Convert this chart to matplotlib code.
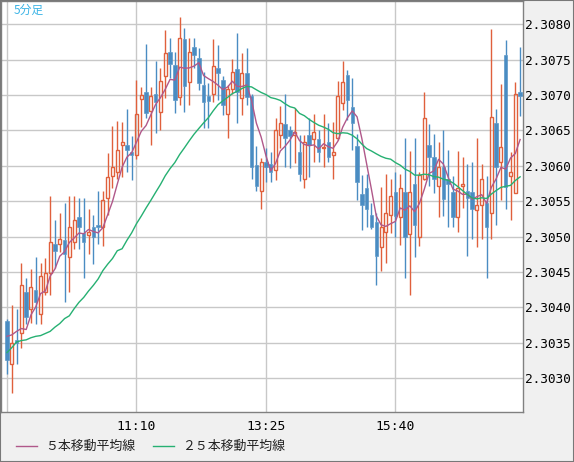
from matplotlib import pyplot as plt
from matplotlib.lines import Line2D
from matplotlib.patches import Rectangle
import numpy as np
import pandas as pd

# 5-minute candles (8:55 .. 17:50)
opens = [2.30381, 2.30320, 2.30354, 2.30363, 2.30422, 2.30398, 2.30425, 2.30391, 2.30422, 2.30448,
         2.30489, 2.30490, 2.30495, 2.30471, 2.30493, 2.30527, 2.30505, 2.30502, 2.30513, 2.30517,
         2.30514, 2.30554, 2.30585, 2.30591, 2.30630, 2.30630, 2.30619, 2.30616, 2.30694, 2.30704,
         2.30677, 2.30701, 2.30676, 2.30727, 2.30761, 2.30742, 2.30697, 2.30779, 2.30718, 2.30768,
         2.30752, 2.30714, 2.30699, 2.30701, 2.30738, 2.30721, 2.30673, 2.30708, 2.30737, 2.30696,
         2.30731, 2.30699, 2.30601, 2.30565, 2.30605, 2.30602, 2.30594, 2.30643, 2.30659, 2.30650,
         2.30643, 2.30619, 2.30582, 2.30643, 2.30638, 2.30638, 2.30625, 2.30633, 2.30615, 2.30640,
         2.30689, 2.30728, 2.30683, 2.30628, 2.30560, 2.30568, 2.30531, 2.30520, 2.30485, 2.30506,
         2.30531, 2.30563, 2.30527, 2.30563, 2.30503, 2.30575, 2.30500, 2.30582, 2.30630, 2.30613,
         2.30572, 2.30598, 2.30581, 2.30563, 2.30527, 2.30571, 2.30565, 2.30563, 2.30537, 2.30544,
         2.30547, 2.30533, 2.30660, 2.30605, 2.30757, 2.30585, 2.30562, 2.30704]
highs = [2.30383, 2.30403, 2.30398, 2.30462, 2.30442, 2.30454, 2.30471, 2.30463, 2.30469, 2.30557,
         2.30523, 2.30533, 2.30548, 2.30557, 2.30557, 2.30555, 2.30555, 2.30539, 2.30530, 2.30565,
         2.30564, 2.30618, 2.30657, 2.30663, 2.30662, 2.30680, 2.30642, 2.30721, 2.30711, 2.30772,
         2.30711, 2.30748, 2.30738, 2.30792, 2.30781, 2.30761, 2.30810, 2.30795, 2.30781, 2.30781,
         2.30766, 2.30732, 2.30717, 2.30779, 2.30771, 2.30727, 2.30714, 2.30751, 2.30788, 2.30759,
         2.30766, 2.30701, 2.30628, 2.30611, 2.30625, 2.30619, 2.30667, 2.30684, 2.30701, 2.30656,
         2.30682, 2.30643, 2.30643, 2.30667, 2.30673, 2.30650, 2.30673, 2.30660, 2.30662, 2.30720,
         2.30748, 2.30735, 2.30724, 2.30645, 2.30587, 2.30589, 2.30548, 2.30534, 2.30570, 2.30589,
         2.30581, 2.30591, 2.30589, 2.30639, 2.30621, 2.30639, 2.30591, 2.30704, 2.30659, 2.30645,
         2.30633, 2.30650, 2.30622, 2.30585, 2.30621, 2.30612, 2.30602, 2.30605, 2.30639, 2.30602,
         2.30585, 2.30793, 2.30680, 2.30716, 2.30778, 2.30619, 2.30718, 2.30768]
lows = [2.30306, 2.30279, 2.30320, 2.30342, 2.30377, 2.30378, 2.30377, 2.30377, 2.30418, 2.30418,
        2.30456, 2.30478, 2.30407, 2.30421, 2.30482, 2.30482, 2.30442, 2.30476, 2.30461, 2.30490,
        2.30486, 2.30530, 2.30568, 2.30582, 2.30584, 2.30591, 2.30580, 2.30609, 2.30655, 2.30667,
        2.30630, 2.30646, 2.30650, 2.30696, 2.30724, 2.30674, 2.30686, 2.30676, 2.30686, 2.30738,
        2.30707, 2.30653, 2.30653, 2.30690, 2.30693, 2.30672, 2.30640, 2.30701, 2.30660, 2.30672,
        2.30686, 2.30582, 2.30565, 2.30539, 2.30577, 2.30577, 2.30580, 2.30625, 2.30599, 2.30597,
        2.30604, 2.30578, 2.30568, 2.30584, 2.30606, 2.30605, 2.30598, 2.30606, 2.30581, 2.30636,
        2.30679, 2.30665, 2.30622, 2.30551, 2.30509, 2.30514, 2.30510, 2.30432, 2.30452, 2.30462,
        2.30505, 2.30500, 2.30488, 2.30442, 2.30417, 2.30471, 2.30486, 2.30580, 2.30572, 2.30561,
        2.30527, 2.30529, 2.30513, 2.30513, 2.30506, 2.30540, 2.30472, 2.30496, 2.30485, 2.30497,
        2.30442, 2.30497, 2.30516, 2.30551, 2.30539, 2.30524, 2.30561, 2.30670]
closes = [2.30325, 2.30350, 2.30350, 2.30431, 2.30387, 2.30428, 2.30407, 2.30444, 2.30449, 2.30492,
          2.30479, 2.30497, 2.30476, 2.30514, 2.30524, 2.30514, 2.30492, 2.30506, 2.30500, 2.30514,
          2.30551, 2.30584, 2.30599, 2.30623, 2.30633, 2.30622, 2.30616, 2.30673, 2.30700, 2.30674,
          2.30698, 2.30690, 2.30720, 2.30759, 2.30744, 2.30693, 2.30781, 2.30713, 2.30761, 2.30757,
          2.30717, 2.30690, 2.30691, 2.30741, 2.30731, 2.30686, 2.30708, 2.30732, 2.30704, 2.30731,
          2.30697, 2.30598, 2.30572, 2.30605, 2.30599, 2.30591, 2.30650, 2.30660, 2.30639, 2.30642,
          2.30648, 2.30589, 2.30633, 2.30630, 2.30648, 2.30619, 2.30626, 2.30612, 2.30619, 2.30698,
          2.30718, 2.30693, 2.30660, 2.30577, 2.30544, 2.30539, 2.30513, 2.30473, 2.30514, 2.30533,
          2.30558, 2.30529, 2.30568, 2.30499, 2.30563, 2.30517, 2.30587, 2.30667, 2.30612, 2.30581,
          2.30599, 2.30553, 2.30575, 2.30527, 2.30568, 2.30575, 2.30555, 2.30539, 2.30545, 2.30582,
          2.30513, 2.30669, 2.30599, 2.30626, 2.30570, 2.30591, 2.30701, 2.30698]

ma5_lead = [2.30359, 2.30361, 2.30366, 2.30370]
ma25_lead = [2.30336, 2.30343, 2.30351, 2.30353, 2.30354, 2.30357, 2.30359, 2.30360,
             2.30363, 2.30366, 2.30372, 2.30377, 2.30384, 2.30388, 2.30398, 2.30407,
             2.30414, 2.30423, 2.30431, 2.30440, 2.30452, 2.30461, 2.30469, 2.30480]

tick_idx = [0, 27, 54, 81]
tick_text = ['', '11:10', '13:25', '15:40']
price_ticks = [2.3030, 2.3035, 2.3040, 2.3045, 2.3050, 2.3055, 2.3060, 2.3065, 2.3070, 2.3075, 2.3080]

up_col = '#e0603c'
dn_col = '#4a8cc2'
ma5_col = '#b0588a'
ma25_col = '#26b072'
cjk = ['Noto Sans CJK JP', 'DejaVu Sans']

o = np.array(opens)
h = np.array(highs)
l = np.array(lows)
c = np.array(closes)
x = np.arange(len(c))
up = c >= o
top = np.maximum(o, c)
bot = np.minimum(o, c)

fig = plt.figure(figsize=(5.74, 4.62), dpi=100, facecolor='#f0f0f0')
ax = fig.add_axes([1/574, 50/462, 522/574, 411/462])
ax.set_facecolor('white')

# candles
cols = np.where(up, up_col, dn_col)
ax.vlines(x, top, h, colors=cols, lw=1, zorder=2)
ax.vlines(x, l, bot, colors=cols, lw=1, zorder=2)
ax.bar(x[up], (top - bot)[up], bottom=bot[up], width=0.62,
       facecolor='none', edgecolor=up_col, lw=1, zorder=3)
ax.bar(x[~up], (top - bot)[~up], bottom=bot[~up], width=0.72,
       color=dn_col, edgecolor=dn_col, lw=0.4, zorder=3)

# moving averages
s = pd.Series(closes)
ma5 = s.rolling(5).mean().to_numpy()
ma25 = s.rolling(25).mean().to_numpy()
ma5[:len(ma5_lead)] = ma5_lead
ma25[:len(ma25_lead)] = ma25_lead
ax.plot(x, ma5, color=ma5_col, lw=1, zorder=4)
ax.plot(x, ma25, color=ma25_col, lw=1, zorder=4)

ax.set_xlim(-1.25, 107.6)
ax.set_ylim(2.30252, 2.30833)
ax.set_xticks(tick_idx, tick_text)
ax.set_yticks(price_ticks, [f'{v:.4f}' for v in price_ticks])
ax.yaxis.tick_right()
ax.tick_params(axis='y', length=0, pad=1.5, labelsize=9.2,
               labelfontfamily='DejaVu Sans Mono', labelcolor='black')
ax.tick_params(axis='x', length=0, pad=6, labelsize=9.4,
               labelfontfamily='DejaVu Sans Mono', labelcolor='black')
ax.grid(color='#c8c8c8', lw=1)
ax.set_axisbelow(True)
for sp in ax.spines.values():
    sp.set_color('#808080')
    sp.set_linewidth(1)

fig.text(14/574, 1 - 10/462, '5分足', color='#3cb4e6', fontsize=8.5,
         va='center', family=cjk)

# legend
ly = 1 - 446/462
fig.add_artist(Line2D([16/574, 37/574], [ly, ly], color=ma5_col, lw=1))
fig.text(45/574, ly, '５本移動平均線', va='center', fontsize=9.3,
         family=cjk, color='#222222')
fig.add_artist(Line2D([153/574, 174/574], [ly, ly], color=ma25_col, lw=1))
fig.text(182/574, ly, '２５本移動平均線', va='center', fontsize=9.3,
         family=cjk, color='#222222')

fig.add_artist(Rectangle((0, 0), 1, 1, transform=fig.transFigure, fill=False,
                         edgecolor='#787878', lw=1.5))

fig.savefig('out.png', dpi=100, facecolor=fig.get_facecolor())
